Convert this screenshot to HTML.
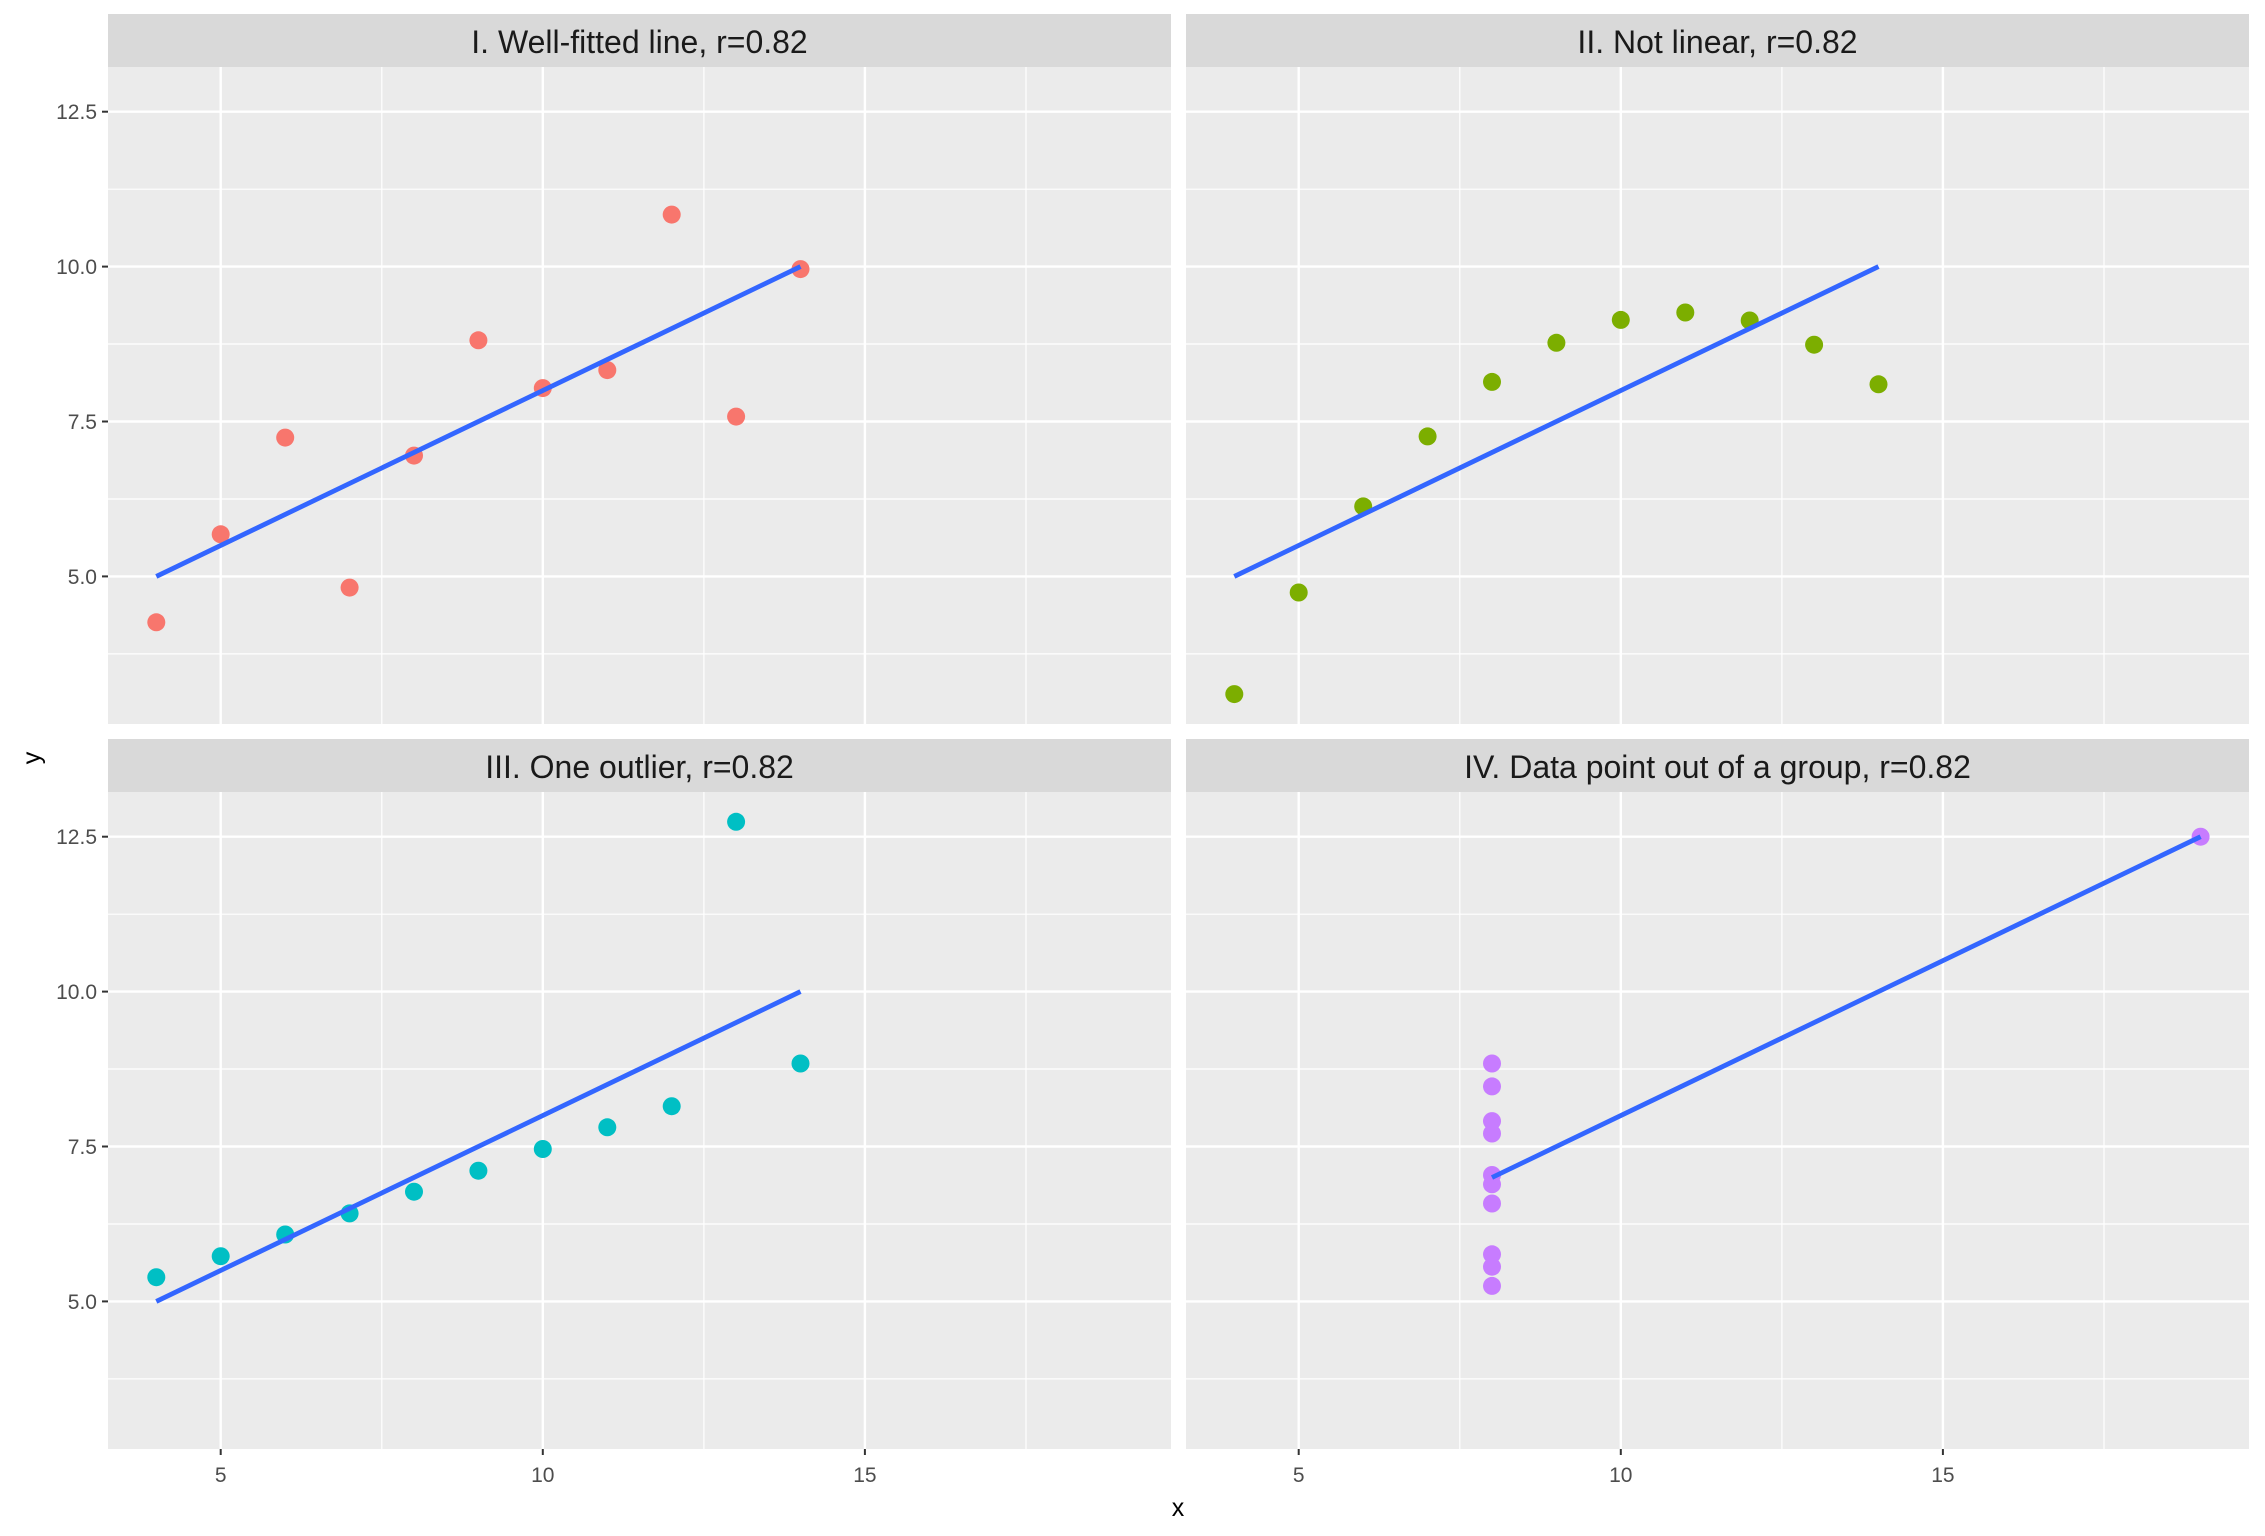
<!DOCTYPE html>
<html><head><meta charset="utf-8"><style>
html,body{margin:0;padding:0;background:#fff;}
svg{display:block;font-family:"Liberation Sans",Arial,sans-serif;}
</style></head><body>
<svg width="2265" height="1536" viewBox="0 0 2265 1536" xmlns="http://www.w3.org/2000/svg">
<defs>
<g id="grid">
  <rect x="0" y="0" width="1063" height="657" fill="#EBEBEB"/>
  <g stroke="#fff" stroke-width="1.2">
    <line x1="0" x2="1063" y1="122.2" y2="122.2"/>
    <line x1="0" x2="1063" y1="277.0" y2="277.0"/>
    <line x1="0" x2="1063" y1="432.0" y2="432.0"/>
    <line x1="0" x2="1063" y1="586.9" y2="586.9"/>
    <line y1="0" y2="657" x1="273.8" x2="273.8"/>
    <line y1="0" y2="657" x1="595.9" x2="595.9"/>
    <line y1="0" y2="657" x1="918.0" x2="918.0"/>
  </g>
  <g stroke="#fff" stroke-width="2.4">
    <line x1="0" x2="1063" y1="44.7" y2="44.7"/>
    <line x1="0" x2="1063" y1="199.6" y2="199.6"/>
    <line x1="0" x2="1063" y1="354.5" y2="354.5"/>
    <line x1="0" x2="1063" y1="509.4" y2="509.4"/>
    <line y1="0" y2="657" x1="112.7" x2="112.7"/>
    <line y1="0" y2="657" x1="434.8" x2="434.8"/>
    <line y1="0" y2="657" x1="756.9" x2="756.9"/>
  </g>
</g>
</defs>

<g fill="#D9D9D9">
  <rect x="108" y="14" width="1063" height="53"/>
  <rect x="1186" y="14" width="1063" height="53"/>
  <rect x="108" y="739" width="1063" height="53"/>
  <rect x="1186" y="739" width="1063" height="53"/>
</g>
<g fill="#1A1A1A" font-size="32" text-anchor="middle">
  <text x="639.5" y="53">I. Well-fitted line, r=0.82</text>
  <text x="1717.5" y="53">II. Not linear, r=0.82</text>
  <text x="639.5" y="778">III. One outlier, r=0.82</text>
  <text x="1717.5" y="778">IV. Data point out of a group, r=0.82</text>
</g>

<use href="#grid" x="108" y="67"/>
<use href="#grid" x="1186" y="67"/>
<use href="#grid" x="108" y="792"/>
<use href="#grid" x="1186" y="792"/>

<g fill="#F8766D">
  <circle cx="542.8" cy="388.1" r="9"/>
  <circle cx="414.0" cy="455.6" r="9"/>
  <circle cx="736.1" cy="416.6" r="9"/>
  <circle cx="478.4" cy="340.3" r="9"/>
  <circle cx="607.3" cy="370.1" r="9"/>
  <circle cx="800.5" cy="269.1" r="9"/>
  <circle cx="285.2" cy="437.6" r="9"/>
  <circle cx="156.3" cy="622.3" r="9"/>
  <circle cx="671.7" cy="214.6" r="9"/>
  <circle cx="349.6" cy="587.6" r="9"/>
  <circle cx="220.7" cy="534.3" r="9"/>
</g>
<line x1="156.3" y1="576.4" x2="800.5" y2="266.6" stroke="#3366FF" stroke-width="4.8"/>

<g fill="#7CAE00">
  <circle cx="1620.8" cy="319.9" r="9"/>
  <circle cx="1492.0" cy="381.9" r="9"/>
  <circle cx="1814.1" cy="344.7" r="9"/>
  <circle cx="1556.4" cy="342.8" r="9"/>
  <circle cx="1685.3" cy="312.5" r="9"/>
  <circle cx="1878.5" cy="384.3" r="9"/>
  <circle cx="1363.2" cy="506.4" r="9"/>
  <circle cx="1234.3" cy="694.1" r="9"/>
  <circle cx="1749.7" cy="320.5" r="9"/>
  <circle cx="1427.6" cy="436.4" r="9"/>
  <circle cx="1298.7" cy="592.5" r="9"/>
</g>
<line x1="1234.3" y1="576.4" x2="1878.5" y2="266.6" stroke="#3366FF" stroke-width="4.8"/>

<g fill="#00BFC4">
  <circle cx="542.8" cy="1149.0" r="9"/>
  <circle cx="414.0" cy="1191.7" r="9"/>
  <circle cx="736.1" cy="821.8" r="9"/>
  <circle cx="478.4" cy="1170.7" r="9"/>
  <circle cx="607.3" cy="1127.3" r="9"/>
  <circle cx="800.5" cy="1063.5" r="9"/>
  <circle cx="285.2" cy="1234.5" r="9"/>
  <circle cx="156.3" cy="1277.2" r="9"/>
  <circle cx="671.7" cy="1106.2" r="9"/>
  <circle cx="349.6" cy="1213.4" r="9"/>
  <circle cx="220.7" cy="1256.2" r="9"/>
</g>
<line x1="156.3" y1="1301.4" x2="800.5" y2="991.6" stroke="#3366FF" stroke-width="4.8"/>

<g fill="#C77CFF">
  <circle cx="1492.0" cy="1203.5" r="9"/>
  <circle cx="1492.0" cy="1254.3" r="9"/>
  <circle cx="1492.0" cy="1133.5" r="9"/>
  <circle cx="1492.0" cy="1063.5" r="9"/>
  <circle cx="1492.0" cy="1086.4" r="9"/>
  <circle cx="1492.0" cy="1175.0" r="9"/>
  <circle cx="1492.0" cy="1285.9" r="9"/>
  <circle cx="2200.6" cy="836.7" r="9"/>
  <circle cx="1492.0" cy="1266.7" r="9"/>
  <circle cx="1492.0" cy="1121.1" r="9"/>
  <circle cx="1492.0" cy="1184.3" r="9"/>
</g>
<line x1="1492.0" y1="1177.5" x2="2200.6" y2="836.7" stroke="#3366FF" stroke-width="4.8"/>

<g stroke="#333" stroke-width="2">
  <line x1="102" x2="108" y1="111.7" y2="111.7"/>
  <line x1="102" x2="108" y1="266.6" y2="266.6"/>
  <line x1="102" x2="108" y1="421.5" y2="421.5"/>
  <line x1="102" x2="108" y1="576.4" y2="576.4"/>
  <line x1="102" x2="108" y1="836.7" y2="836.7"/>
  <line x1="102" x2="108" y1="991.6" y2="991.6"/>
  <line x1="102" x2="108" y1="1146.5" y2="1146.5"/>
  <line x1="102" x2="108" y1="1301.4" y2="1301.4"/>
  <line y1="1449" y2="1455" x1="220.7" x2="220.7"/>
  <line y1="1449" y2="1455" x1="542.8" x2="542.8"/>
  <line y1="1449" y2="1455" x1="864.9" x2="864.9"/>
  <line y1="1449" y2="1455" x1="1298.7" x2="1298.7"/>
  <line y1="1449" y2="1455" x1="1620.8" x2="1620.8"/>
  <line y1="1449" y2="1455" x1="1942.9" x2="1942.9"/>
</g>
<g fill="#4D4D4D" font-size="21" text-anchor="end">
  <text x="97" y="119">12.5</text>
  <text x="97" y="274">10.0</text>
  <text x="97" y="429">7.5</text>
  <text x="97" y="584">5.0</text>
  <text x="97" y="844">12.5</text>
  <text x="97" y="999">10.0</text>
  <text x="97" y="1154">7.5</text>
  <text x="97" y="1309">5.0</text>
</g>
<g fill="#4D4D4D" font-size="21" text-anchor="middle">
  <text x="220.7" y="1482">5</text>
  <text x="542.8" y="1482">10</text>
  <text x="864.9" y="1482">15</text>
  <text x="1298.7" y="1482">5</text>
  <text x="1620.8" y="1482">10</text>
  <text x="1942.9" y="1482">15</text>
</g>
<text x="1178" y="1516" font-size="25" text-anchor="middle" fill="#000">x</text>
<text transform="translate(40,758) rotate(-90)" font-size="25" text-anchor="middle" fill="#000">y</text>
</svg>
</body></html>
